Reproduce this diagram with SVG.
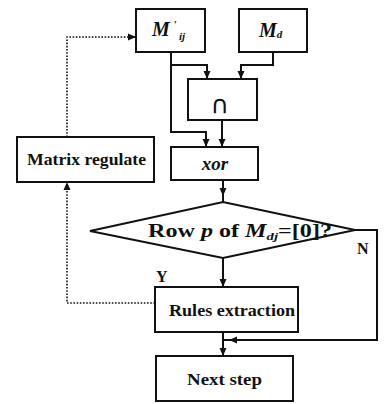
<svg xmlns="http://www.w3.org/2000/svg" width="386" height="404" viewBox="0 0 386 404">
  <style>
    .box { fill: #fff; stroke: #111; stroke-width: 2; }
    .wire { fill: none; stroke: #111; stroke-width: 2; }
    .dot { fill: none; stroke: #111; stroke-width: 1.6; stroke-dasharray: 1.6 1.6; }
    .lbl { font-family: "Liberation Serif", "Times New Roman", serif; font-weight: bold; font-size: 17px; fill: #111; }
    .it { font-style: italic; }
    .sym { font-family: "Liberation Serif", "Times New Roman", serif; font-weight: bold; font-style: italic; font-size: 20px; fill: #111; }
  </style>
  <defs>
    <marker id="arr" markerUnits="userSpaceOnUse" markerWidth="9" markerHeight="8" refX="8" refY="4" orient="auto">
      <path d="M0,0.5 L8,4 L0,7.5 z" fill="#111"/>
    </marker>
  </defs>

  <!-- connectors -->
  <g id="connectors">
    <path class="wire" d="M171,52 V132 H206 V147" marker-end="url(#arr)"/>
    <path class="wire" d="M171,65 H207 V79" marker-end="url(#arr)"/>
    <path class="wire" d="M273,52 V65 H241 V79" marker-end="url(#arr)"/>
    <path class="wire" d="M222,120 V147" marker-end="url(#arr)"/>
    <path class="wire" d="M223,180 V196" marker-end="url(#arr)"/>
    <path class="wire" d="M223,195 V203"/>
    <path class="wire" d="M223,258 V287" marker-end="url(#arr)"/>
    <path class="wire" d="M223,332 V356" marker-end="url(#arr)"/>
    <path class="wire" d="M355,230 H377 V340 H229" marker-end="url(#arr)"/>
    <path class="wire" d="M230,340 H223"/>
    <path class="dot" d="M67,137 V37 H136" marker-end="url(#arr)"/>
    <path class="dot" d="M155,303 H67 V182" marker-end="url(#arr)"/>
    <text class="lbl" x="156" y="282" style="font-size:16px">Y</text>
    <text class="lbl" x="357" y="254" style="font-size:16px">N</text>
  </g>

  <g id="node-mij">
    <rect class="box" x="136" y="9" width="69" height="43"/>
    <text class="sym" x="152" y="36">M<tspan font-size="11" dx="4" dy="-8">′</tspan></text>
    <text class="sym" x="179" y="40" style="font-size:11px">ij</text>
  </g>

  <g id="node-md">
    <rect class="box" x="239" y="9" width="68" height="43"/>
    <text class="sym" x="259" y="37">M<tspan font-size="11" dy="1">d</tspan></text>
  </g>

  <g id="node-intersect">
    <rect class="box" x="188" y="79" width="69" height="41"/>
    <text x="220" y="113" text-anchor="middle" style="font-family:'DejaVu Sans','Liberation Serif',serif;font-size:25px;fill:#111">∩</text>
  </g>

  <g id="node-xor">
    <rect class="box" x="171" y="147" width="87" height="33"/>
    <text class="sym" x="215" y="170" text-anchor="middle" style="font-size:19px">xor</text>
  </g>

  <g id="node-matrix">
    <rect class="box" x="17" y="137" width="137" height="45"/>
    <text class="lbl" x="27" y="165" textLength="119" lengthAdjust="spacingAndGlyphs">Matrix regulate</text>
  </g>

  <g id="node-decision">
    <polygon class="box" points="90,231 223,202 355,230 223,258"/>
    <text class="lbl" x="148" y="237" style="font-size:18px" textLength="184" lengthAdjust="spacingAndGlyphs">Row <tspan class="it">p</tspan> of <tspan class="it">M</tspan><tspan class="it" font-size="11" dy="3">dj</tspan><tspan dy="-3">=[0]?</tspan></text>
  </g>

  <g id="node-rules">
    <rect class="box" x="155" y="287" width="143" height="45"/>
    <text class="lbl" x="169" y="316" textLength="126" lengthAdjust="spacingAndGlyphs">Rules extraction</text>
  </g>

  <g id="node-next">
    <rect class="box" x="156" y="356" width="137" height="45"/>
    <text class="lbl" x="187" y="385" textLength="75" lengthAdjust="spacingAndGlyphs">Next step</text>
  </g>
</svg>
